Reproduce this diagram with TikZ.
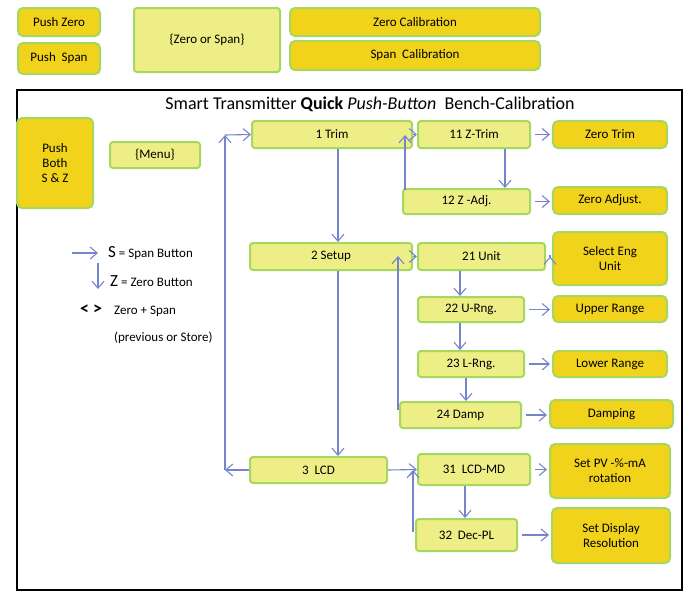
\documentclass[tikz,border=0pt]{standalone}
\usepackage{fontspec}
\setmainfont{Carlito}
\usetikzlibrary{arrows.meta}
\definecolor{lfill}{HTML}{EDEE86}
\definecolor{lbord}{HTML}{A6D75E}
\definecolor{dfill}{HTML}{F2D31C}
\definecolor{arr}{HTML}{7585CB}
\begin{document}
\begin{tikzpicture}[x=1pt,y=-1pt,font=\fontsize{13}{15}\selectfont,
 lb/.style={draw=lbord,line width=2pt,fill=lfill,rounded corners=3pt,align=center,inner sep=1pt},
 db/.style={draw=lbord,line width=2pt,fill=dfill,rounded corners=5pt,align=center,inner sep=1pt},
 a/.style={draw=arr,line width=1.1pt,-{Straight Barb[length=7pt,width=12pt]}},
 l/.style={draw=arr,line width=1pt}]
\useasboundingbox (0,0) rectangle (693,598);
\newcommand{\bx}[6]{\node[#1,minimum width=#4-#2,minimum height=#5-#3] (#6) at ({(#2+#4)/2},{(#3+#5)/2})}
\bx{db}{18}{8}{100}{36}{pz}{Push Zero};
\bx{db}{18}{43}{100}{74}{ps}{Push\ \ Span};
\bx{lb}{134}{8}{280}{72}{zs}{\{Zero or Span\}};
\bx{db}{290}{8}{540}{36}{zc}{Zero Calibration};
\bx{db}{290}{41}{540}{70}{sc}{Span\ \ Calibration};
\draw[line width=2.5pt] (17,90) rectangle (682,590);
\node[font=\fontsize{18}{20}\selectfont] (title) at (370,104) {Smart Transmitter \textbf{Quick} \textit{Push-Button}\ \ Bench-Calibration};
\bx{db}{17}{118}{93}{208}{pb}{Push\\Both\\S \& Z};
\bx{lb}{110}{142}{200}{168}{menu}{\{Menu\}};
\bx{lb}{252}{121}{412}{148}{t1}{1 Trim};
\bx{lb}{250}{243}{412}{270}{t2}{2 Setup};
\bx{lb}{250}{457}{387}{483}{t3}{3\ \ LCD};
\bx{lb}{418}{121}{530}{148}{t11}{11 Z-Trim};
\bx{lb}{403}{189}{530}{214}{t12}{12 Z -Adj.};
\bx{lb}{418}{243}{545}{270}{t21}{21 Unit};
\bx{lb}{418}{297}{524}{322}{t22}{22 U-Rng.};
\bx{lb}{418}{351}{524}{377}{t23}{23 L-Rng.};
\bx{lb}{400}{402}{521}{428}{t24}{24 Damp};
\bx{lb}{418}{454}{530}{485}{t31}{31\ \ LCD-MD};
\bx{lb}{416}{519}{517}{551}{t32}{32\ \ Dec-PL};
\bx{db}{553}{121}{667}{148}{r1}{Zero Trim};
\bx{db}{553}{187}{667}{214}{r2}{Zero Adjust.};
\bx{db}{553}{232}{667}{285}{r3}{Select Eng\\Unit};
\bx{db}{553}{296}{667}{322}{r4}{Upper Range};
\bx{db}{553}{351}{667}{377}{r5}{Lower Range};
\bx{db}{550}{400}{673}{428}{r6}{Damping};
\bx{db}{550}{444}{670}{498}{r7}{Set PV -\%-mA\\rotation};
\bx{db}{552}{508}{670}{563}{r8}{Set Display\\Resolution};
% left loop
\coordinate (lt) at (225,135); \coordinate (lb) at (225,470);
\draw[a] (lb) -- (lt);
\draw[a] (lt) -- (t1.west);
\draw[a] (t3.west) -- (lb);
\draw[a] (t1.south -| 338,0) -- (t2.north -| 338,0);
\draw[a] (t2.south -| 338,0) -- (t3.north -| 338,0);
% trim
\coordinate (c1) at (405,135);
\draw[a] (t1.east) -- (t11.west);
\draw[a] (405,190) -- (c1);
\draw[a] (t11.south -| 505,0) -- (t12.north -| 505,0);
% setup
\coordinate (c2) at (398,256);
\draw[a] (t2.east) -- (t21.west);
\draw[a] (398,410) -- (c2);
\draw[a] (t21.south -| 460,0) -- (t22.north -| 460,0);
\draw[a] (t22.south -| 460,0) -- (t23.north -| 460,0);
\draw[a] (t23.south -| 466,0) -- (t24.north -| 466,0);
% lcd
\draw[a] (t3.east) -- (t31.west);
\draw[a] (413,532) -- (413,470);
\draw[a] (t31.south -| 465,0) -- (t32.north -| 465,0);
% right
\foreach \s/\t in {t11/r1,t12/r2,t21/r3,t22/r4,t23/r5,t24/r6,t31/r7,t32/r8}
  \draw[a] ([xshift=4pt]\s.east) -- ([xshift=-2pt]\t.west |- \s.east);
% legend
\coordinate (la1) at (72,253); \coordinate (la2) at (98,253);
\draw[a] (la1) -- (la2);
\node[anchor=west,inner sep=0pt] (ls) at (108,253) {{\fontsize{17}{19}\selectfont S} = Span Button};
\coordinate (ld1) at (98,263); \coordinate (ld2) at (98,289);
\draw[a] (ld1) -- (ld2);
\node[anchor=west,inner sep=0pt] (lz) at (110,281) {{\fontsize{17}{19}\selectfont Z} = Zero Button};
\node[anchor=west,inner sep=0pt,font=\fontsize{18}{20}\selectfont\bfseries] (lc) at (80,310) {< >};
\node[anchor=west,inner sep=0pt] (lzs) at (114,311) {Zero + Span};
\node[anchor=west,inner sep=0pt] (lp) at (114,338) {(previous or Store)};
\end{tikzpicture}
\end{document}
